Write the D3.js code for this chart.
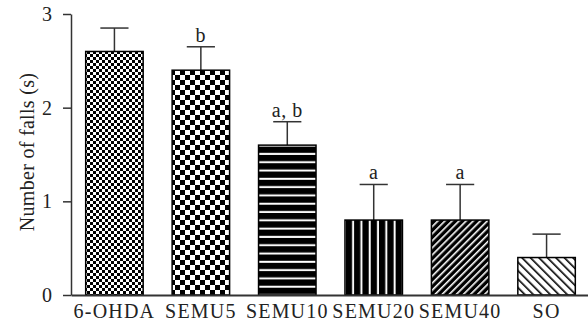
<!DOCTYPE html>
<html><head><meta charset="utf-8">
<script src="https://cdn.jsdelivr.net/npm/d3@7"></script>
<style>
body{margin:0;background:#fff;}
text{font-family:"Liberation Serif","Times New Roman",serif;fill:#222;}
</style></head>
<body><svg id="c" width="588" height="326"></svg>
<script>
const categories = ["6-OHDA","SEMU5","SEMU10","SEMU20","SEMU40","SO"];
const means = [2.6, 2.4, 1.6, 0.8, 0.8, 0.4];
const errors = [0.25, 0.25, 0.25, 0.38, 0.38, 0.25];
const sigLabels = ["", "b", "a, b", "a", "a", ""];
const yTicks = [0, 1, 2, 3];
const patternIds = ["pFineCheck","pCheck","pHoriz","pVert","pDiagR","pDiagL"];

const svg = d3.select("#c");
const x = d3.scaleBand().domain(categories).range([71, 590]).paddingInner(0.335).paddingOuter(0.17);
const y = d3.scaleLinear().domain([0, 3]).range([295, 14]);

const defs = svg.append("defs");
let p = defs.append("pattern").attr("id","pFineCheck").attr("patternUnits","userSpaceOnUse").attr("width",6).attr("height",6);
p.append("rect").attr("width",6).attr("height",6).attr("fill","#fff");
p.append("rect").attr("width",3).attr("height",3).attr("fill","#000");
p.append("rect").attr("x",3).attr("y",3).attr("width",3).attr("height",3).attr("fill","#000");
p = defs.append("pattern").attr("id","pCheck").attr("patternUnits","userSpaceOnUse").attr("width",10).attr("height",10);
p.append("rect").attr("width",10).attr("height",10).attr("fill","#fff");
p.append("rect").attr("width",5).attr("height",5).attr("fill","#000");
p.append("rect").attr("x",5).attr("y",5).attr("width",5).attr("height",5).attr("fill","#000");
p = defs.append("pattern").attr("id","pHoriz").attr("patternUnits","userSpaceOnUse").attr("width",8.3).attr("height",8.3);
p.append("rect").attr("width",8.3).attr("height",8.3).attr("fill","#000");
p.append("rect").attr("y",3.5).attr("width",8.3).attr("height",2).attr("fill","#fff");
p = defs.append("pattern").attr("id","pVert").attr("patternUnits","userSpaceOnUse").attr("width",8.3).attr("height",8.3);
p.append("rect").attr("width",8.3).attr("height",8.3).attr("fill","#000");
p.append("rect").attr("x",3.5).attr("width",2).attr("height",8.3).attr("fill","#fff");
p = defs.append("pattern").attr("id","pDiagR").attr("patternUnits","userSpaceOnUse").attr("width",5).attr("height",5).attr("patternTransform","rotate(45)");
p.append("rect").attr("width",5).attr("height",5).attr("fill","#000");
p.append("rect").attr("x",0).attr("width",1.6).attr("height",5).attr("fill","#fff");
p = defs.append("pattern").attr("id","pDiagL").attr("patternUnits","userSpaceOnUse").attr("width",6).attr("height",6).attr("patternTransform","rotate(-45)");
p.append("rect").attr("width",6).attr("height",6).attr("fill","#fff");
p.append("rect").attr("x",0).attr("width",1.6).attr("height",6).attr("fill","#000");

const data = categories.map((c,i)=>({c, m:means[i], e:errors[i], s:sigLabels[i], p:patternIds[i]}));

const g = svg.append("g");
data.forEach(d=>{
  const cx = x(d.c) + x.bandwidth()/2;
  const cw = x.bandwidth()*0.49;
  g.append("line").attr("x1",cx).attr("x2",cx).attr("y1",y(d.m)).attr("y2",y(d.m+d.e)).attr("stroke","#333").attr("stroke-width",1.5);
  g.append("line").attr("x1",cx-cw/2).attr("x2",cx+cw/2).attr("y1",y(d.m+d.e)).attr("y2",y(d.m+d.e)).attr("stroke","#333").attr("stroke-width",1.5);
  if (d.s) g.append("text").attr("x",cx).attr("y",y(d.m+d.e)-5).attr("text-anchor","middle").attr("font-size",20).attr("letter-spacing","0.5px").text(d.s);
});

svg.append("g").selectAll("rect").data(data).join("rect")
  .attr("x",d=>x(d.c)).attr("width",x.bandwidth())
  .attr("y",d=>y(d.m)).attr("height",d=>y(0)-y(d.m))
  .attr("fill",d=>`url(#${d.p})`).attr("stroke","#000").attr("stroke-width",1.5);

const ya = svg.append("g").attr("transform","translate(71,0)")
  .call(d3.axisLeft(y).tickValues(yTicks).tickFormat(d3.format("d")).tickSize(8).tickPadding(11).tickSizeOuter(0));
ya.select(".domain").attr("stroke","#333").attr("stroke-width",1.5);
ya.selectAll(".tick line").attr("stroke","#333").attr("stroke-width",1.5);
ya.selectAll(".tick text").attr("font-size",20).attr("fill","#222");

const xa = svg.append("g").attr("transform","translate(0,295)")
  .call(d3.axisBottom(x).tickSize(0).tickPadding(9).tickSizeOuter(0));
xa.select(".domain").attr("stroke","#333").attr("stroke-width",1.8);
xa.selectAll(".tick text").attr("font-size",20).attr("fill","#222").attr("letter-spacing","1.2px");

svg.append("text").attr("transform","translate(34,152) rotate(-90)").attr("text-anchor","middle")
  .attr("font-size",20).attr("letter-spacing","0.3px").text("Number of falls (s)");
</script></body></html>
